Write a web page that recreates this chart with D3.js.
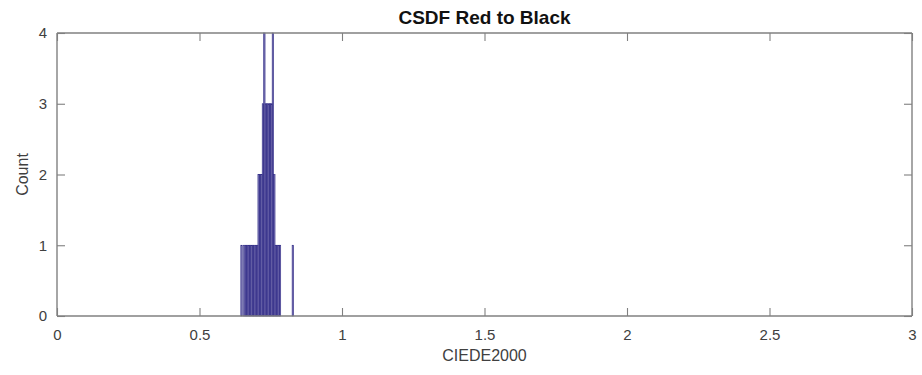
<!DOCTYPE html>
<html>
<head>
<meta charset="utf-8">
<script src="https://cdn.jsdelivr.net/npm/d3@7"></script>
<style>
  html, body { margin: 0; padding: 0; background: #ffffff; }
  svg { display: block; }
  text { font-family: "Liberation Sans", Arial, Helvetica, sans-serif; }
</style>
</head>
<body>
<svg id="chart" width="922" height="375"></svg>
<script>
// Histogram of CIEDE2000 colour differences (bin width 0.005)
const binWidth = 0.005;
const binStarts = [
  0.645, 0.655, 0.660, 0.665, 0.670, 0.675, 0.680, 0.685, 0.690, 0.695,
  0.700, 0.705, 0.710, 0.715, 0.720, 0.725, 0.730, 0.735, 0.740, 0.745,
  0.750, 0.755, 0.760, 0.765, 0.770, 0.775, 0.780, 0.825
];
const binCounts = [
  1, 1, 1, 1, 1, 1, 1, 1, 1, 1,
  1, 2, 2, 2, 3, 4, 3, 3, 3, 3,
  3, 4, 2, 1, 1, 1, 1, 1
];
const xTicks = [0, 0.5, 1, 1.5, 2, 2.5, 3];
const yTicks = [0, 1, 2, 3, 4];
const titleText = "CSDF Red to Black";
const xLabelText = "CIEDE2000";
const yLabelText = "Count";

const bins = binStarts.map((x0, i) => ({ x0, x1: x0 + binWidth, count: binCounts[i] }));

const margin = { left: 57, right: 10, top: 33, bottom: 59 };
const W = 922, H = 375;
const svg = d3.select("#chart");

const x = d3.scaleLinear().domain([0, 3]).range([margin.left, W - margin.right]);
const y = d3.scaleLinear().domain([0, 4]).range([H - margin.bottom, margin.top]);

const axisColor = "#808080";
const labelColor = "#404040";
const tickLen = 8;

// bars
svg.append("g")
  .selectAll("rect")
  .data(bins)
  .join("rect")
  .attr("x", d => x(d.x0))
  .attr("width", d => x(d.x1) - x(d.x0))
  .attr("y", d => y(d.count))
  .attr("height", d => y(0) - y(d.count))
  .attr("fill", "rgba(50,42,136,0.65)")
  .attr("stroke", "#2f2a86")
  .attr("stroke-width", 0.6);

function styleAxis(g) {
  g.select(".domain").attr("stroke", axisColor).attr("stroke-width", 1.4);
  g.selectAll(".tick line").attr("stroke", axisColor).attr("stroke-width", 1.1);
  g.selectAll(".tick text").attr("fill", labelColor).style("font-size", "15px");
}

// bottom axis with inward ticks
svg.append("g")
  .attr("transform", `translate(0,${y(0)})`)
  .call(d3.axisBottom(x).tickValues(xTicks).tickSize(-tickLen).tickPadding(13).tickFormat(d3.format("")))
  .call(styleAxis)
  .call(g => g.select(".domain").attr("d", `M${x(0)},0H${x(3)}`));

// top axis, ticks only
svg.append("g")
  .attr("transform", `translate(0,${y(4)})`)
  .call(d3.axisTop(x).tickValues(xTicks).tickSize(-tickLen).tickFormat(""))
  .call(styleAxis)
  .call(g => g.select(".domain").attr("d", `M${x(0)},0H${x(3)}`));

// left axis
svg.append("g")
  .attr("transform", `translate(${x(0)},0)`)
  .call(d3.axisLeft(y).tickValues(yTicks).tickSize(-tickLen).tickPadding(10).tickFormat(d3.format("d")))
  .call(styleAxis)
  .call(g => g.select(".domain").attr("d", `M0,${y(0)}V${y(4)}`));

// right axis, ticks only
svg.append("g")
  .attr("transform", `translate(${x(3)},0)`)
  .call(d3.axisRight(y).tickValues(yTicks).tickSize(-tickLen).tickFormat(""))
  .call(styleAxis)
  .call(g => g.select(".domain").attr("d", `M0,${y(0)}V${y(4)}`));

// title and axis labels
svg.append("text")
  .attr("x", (x(0) + x(3)) / 2)
  .attr("y", 24)
  .attr("text-anchor", "middle")
  .attr("font-weight", "bold")
  .style("font-size", "19px")
  .attr("fill", "#111")
  .text(titleText);

svg.append("text")
  .attr("x", (x(0) + x(3)) / 2)
  .attr("y", 361)
  .attr("text-anchor", "middle")
  .style("font-size", "16px")
  .attr("fill", labelColor)
  .text(xLabelText);

svg.append("text")
  .attr("transform", `translate(28,${(y(0) + y(4)) / 2}) rotate(-90)`)
  .attr("text-anchor", "middle")
  .style("font-size", "16px")
  .attr("fill", labelColor)
  .text(yLabelText);
</script>
</body>
</html>
